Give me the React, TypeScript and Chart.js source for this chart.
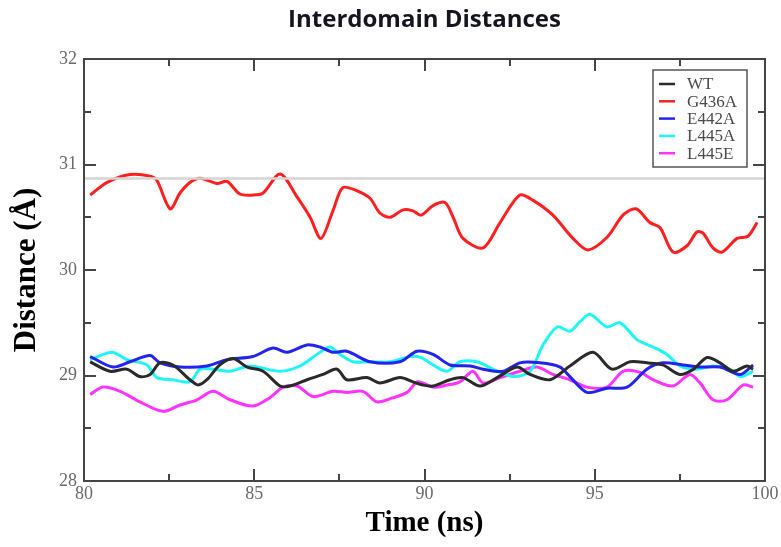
import React, { useEffect, useRef } from 'react';
import { Chart, registerables } from 'chart.js';

Chart.register(...registerables);

const W = 781;
const H = 547;

// Axis ranges and ticks
const xMin = 80;
const xMax = 100;
const xMajorStep = 5;
const xMinorStep = 2.5;
const yMin = 28;
const yMax = 32;
const yMajorStep = 1;
const yMinorStep = 0.5;

// Reference horizontal line
const refLineValue = 30.867;

// Series labels and colours
const seriesLabels = ['WT', 'G436A', 'E442A', 'L445A', 'L445E'];
const seriesColors = ['#2a2a2a', '#ff1f1f', '#2323f0', '#1ff5f5', '#ff33ff'];

// WT
const wtTime = [80.18, 80.76, 81.26, 81.64, 81.94, 82.23, 82.61, 83.11, 83.35, 83.61, 83.99, 84.38, 84.79, 85.26, 85.76, 86.05, 86.55, 87.02, 87.43, 87.72, 88.31, 88.69, 89.28, 89.66, 89.95, 90.25, 90.75, 91.13, 91.63, 92.13, 92.72, 93.1, 93.69, 94.27, 94.95, 95.5, 96.04, 96.53, 97.0, 97.5, 97.9, 98.3, 98.68, 99.06, 99.47, 99.65];
const wtDist = [29.13, 29.04, 29.06, 28.99, 29.01, 29.12, 29.10, 28.96, 28.91, 28.96, 29.10, 29.16, 29.08, 29.04, 28.90, 28.90, 28.96, 29.01, 29.06, 28.96, 28.98, 28.93, 28.98, 28.94, 28.91, 28.90, 28.96, 28.98, 28.90, 28.98, 29.08, 29.01, 28.96, 29.09, 29.22, 29.06, 29.13, 29.12, 29.10, 29.01, 29.06, 29.17, 29.12, 29.04, 29.09, 29.06];

// G436A
const g436aTime = [80.18, 80.68, 81.35, 81.94, 82.14, 82.53, 82.82, 83.11, 83.41, 83.91, 84.2, 84.58, 84.96, 85.26, 85.76, 86.26, 86.64, 86.96, 87.31, 87.6, 88.02, 88.4, 88.69, 88.99, 89.37, 89.66, 89.9, 90.25, 90.6, 90.84, 91.13, 91.72, 92.22, 92.8, 93.19, 93.77, 94.36, 94.8, 95.36, 95.83, 96.21, 96.62, 96.92, 97.3, 97.71, 98.0, 98.18, 98.47, 98.74, 99.18, 99.5, 99.77];
const g436aDist = [30.71, 30.83, 30.905, 30.89, 30.85, 30.58, 30.73, 30.83, 30.87, 30.82, 30.84, 30.72, 30.71, 30.73, 30.91, 30.69, 30.50, 30.30, 30.56, 30.78, 30.75, 30.68, 30.54, 30.50, 30.57, 30.56, 30.52, 30.61, 30.64, 30.50, 30.30, 30.21, 30.45, 30.71, 30.66, 30.52, 30.30, 30.19, 30.31, 30.52, 30.58, 30.45, 30.40, 30.17, 30.23, 30.36, 30.35, 30.21, 30.17, 30.30, 30.32, 30.45];

// E442A
const e442aTime = [80.18, 80.85, 81.35, 81.94, 82.23, 82.82, 83.61, 84.2, 84.96, 85.55, 85.96, 86.55, 86.93, 87.31, 87.72, 88.4, 89.28, 89.78, 90.25, 90.75, 91.34, 91.72, 92.31, 92.8, 93.39, 93.98, 94.27, 94.77, 95.36, 95.95, 96.53, 97.0, 97.59, 98.09, 98.68, 99.27, 99.65];
const e442aDist = [29.18, 29.08, 29.13, 29.19, 29.12, 29.08, 29.09, 29.15, 29.18, 29.26, 29.22, 29.29, 29.27, 29.22, 29.23, 29.13, 29.13, 29.23, 29.20, 29.10, 29.09, 29.06, 29.04, 29.12, 29.12, 29.08, 28.99, 28.84, 28.88, 28.89, 29.06, 29.12, 29.10, 29.08, 29.08, 29.01, 29.10];

// L445A
const l445aTime = [80.18, 80.82, 81.26, 81.85, 82.14, 82.61, 83.11, 83.41, 83.79, 84.29, 84.87, 85.76, 86.34, 86.93, 87.22, 87.52, 87.9, 88.4, 88.99, 89.57, 89.9, 90.25, 90.66, 91.04, 91.54, 92.01, 92.6, 93.1, 93.48, 93.9, 94.27, 94.57, 94.86, 95.36, 95.74, 96.24, 96.71, 97.12, 97.5, 98.0, 98.47, 98.97, 99.27, 99.65];
const l445aDist = [29.15, 29.22, 29.15, 29.10, 28.98, 28.96, 28.94, 29.06, 29.06, 29.04, 29.09, 29.04, 29.09, 29.22, 29.27, 29.20, 29.13, 29.13, 29.13, 29.18, 29.17, 29.10, 29.04, 29.13, 29.13, 29.06, 28.99, 29.04, 29.29, 29.46, 29.42, 29.51, 29.58, 29.46, 29.50, 29.34, 29.27, 29.20, 29.09, 29.06, 29.09, 29.06, 28.99, 29.04];

// L445E
const l445eTime = [80.18, 80.56, 81.06, 81.64, 82.32, 82.82, 83.32, 83.79, 84.29, 84.96, 85.46, 85.85, 86.26, 86.73, 87.31, 87.72, 88.19, 88.6, 89.08, 89.49, 89.8, 90.25, 90.66, 91.04, 91.42, 91.72, 92.22, 92.8, 93.3, 93.77, 94.27, 94.77, 95.36, 95.83, 96.33, 96.71, 97.3, 97.79, 98.09, 98.47, 98.88, 99.36, 99.65];
const l445eDist = [28.82, 28.89, 28.85, 28.75, 28.66, 28.72, 28.77, 28.85, 28.77, 28.71, 28.79, 28.89, 28.90, 28.80, 28.85, 28.84, 28.85, 28.75, 28.79, 28.84, 28.94, 28.89, 28.91, 28.94, 29.04, 28.93, 28.98, 29.04, 29.08, 29.01, 28.96, 28.89, 28.89, 29.04, 29.03, 28.96, 28.90, 29.01, 28.93, 28.77, 28.77, 28.91, 28.89];

const seriesTimes = [wtTime, g436aTime, e442aTime, l445aTime, l445eTime];
const seriesDists = [wtDist, g436aDist, e442aDist, l445aDist, l445eDist];

const toPoints = (t: number[], v: number[]) =>
  t.slice(0, Math.min(t.length, v.length)).map((x, i) => ({ x, y: v[i] }));

const frameTicks = {
  id: 'frameTicks',
  afterDatasetsDraw(chart: any) {
    const { ctx, chartArea: a, scales } = chart;
    const xs = scales.x;
    const ys = scales.y;
    ctx.save();
    ctx.strokeStyle = '#454545';
    ctx.lineWidth = 2;
    ctx.lineCap = 'butt';
    ctx.beginPath();
    for (let v = xMin; v <= xMax + 1e-9; v += xMinorStep) {
      const px = Math.round(xs.getPixelForValue(v));
      const major = Math.abs(v / xMajorStep - Math.round(v / xMajorStep)) < 1e-6;
      const len = major ? 12 : 7;
      ctx.moveTo(px, a.bottom);
      ctx.lineTo(px, a.bottom - len);
      ctx.moveTo(px, a.top);
      ctx.lineTo(px, a.top + len);
    }
    for (let v = yMin; v <= yMax + 1e-9; v += yMinorStep) {
      const py = Math.round(ys.getPixelForValue(v));
      const major = Math.abs(v / yMajorStep - Math.round(v / yMajorStep)) < 1e-6;
      const len = major ? 12 : 7;
      ctx.moveTo(a.left, py);
      ctx.lineTo(a.left + len, py);
      ctx.moveTo(a.right, py);
      ctx.lineTo(a.right - len, py);
    }
    ctx.stroke();
    ctx.strokeRect(a.left, a.top, a.right - a.left, a.bottom - a.top);
    ctx.restore();
  },
};

const boxLegend = {
  id: 'boxLegend',
  afterDraw(chart: any) {
    const { ctx, chartArea: a } = chart;
    const items = chart.data.datasets.filter((d: any) => seriesLabels.includes(d.label));
    const bw = 94;
    const bh = 97;
    const bx = a.right - 112;
    const by = a.top + 11;
    ctx.save();
    ctx.fillStyle = '#ffffff';
    ctx.fillRect(bx, by, bw, bh);
    ctx.strokeStyle = '#555555';
    ctx.lineWidth = 1.5;
    ctx.strokeRect(bx, by, bw, bh);
    ctx.font = '17px "Liberation Serif", serif';
    ctx.textBaseline = 'middle';
    ctx.textAlign = 'left';
    items.forEach((d: any, i: number) => {
      const yy = by + 14 + i * 17.3;
      ctx.strokeStyle = d.borderColor;
      ctx.lineWidth = 2.5;
      ctx.beginPath();
      ctx.moveTo(bx + 6, yy);
      ctx.lineTo(bx + 22, yy);
      ctx.stroke();
      ctx.fillStyle = '#4a4a4a';
      ctx.fillText(d.label, bx + 34, yy + 1);
    });
    ctx.restore();
  },
};

export default function App() {
  const ref = useRef<HTMLCanvasElement>(null);

  useEffect(() => {
    const canvas = ref.current;
    if (!canvas) return;
    const datasets: any[] = [
      {
        label: 'reference',
        data: [
          { x: xMin, y: refLineValue },
          { x: xMax, y: refLineValue },
        ],
        borderColor: '#d4d4d4',
        borderWidth: 2.5,
        pointRadius: 0,
        tension: 0,
      },
      ...seriesLabels.map((label, i) => ({
        label,
        data: toPoints(seriesTimes[i], seriesDists[i]),
        borderColor: seriesColors[i],
        backgroundColor: seriesColors[i],
        borderWidth: 3,
        pointRadius: 0,
        tension: 0.3,
        fill: false,
      })),
    ];

    const chart = new Chart(canvas, {
      type: 'line',
      data: { datasets },
      options: {
        responsive: false,
        animation: false,
        events: [],
        layout: { padding: { left: 0, right: 16, top: 0, bottom: 0 } },
        plugins: {
          legend: { display: false },
          tooltip: { enabled: false },
          title: {
            display: true,
            text: 'Interdomain Distances',
            fullSize: false,
            color: '#15151f',
            font: { family: '"Open Sans", sans-serif', size: 24, weight: 'bold', lineHeight: 1.2 },
            padding: { top: 6, bottom: 24.2 },
          },
        },
        scales: {
          x: {
            type: 'linear',
            min: xMin,
            max: xMax,
            ticks: {
              stepSize: xMajorStep,
              padding: 2,
              color: '#6a6a6a',
              font: { family: '"Liberation Serif", serif', size: 18 },
            },
            grid: { display: false, drawTicks: false },
            border: { display: false },
            title: {
              display: true,
              text: 'Time (ns)',
              color: '#000000',
              font: { family: '"Liberation Serif", serif', size: 29, weight: 'bold', lineHeight: 1.2 },
              padding: { top: 0, bottom: 6 },
            },
            afterFit: (s: any) => {
              s.height = 66;
            },
          },
          y: {
            type: 'linear',
            min: yMin,
            max: yMax,
            ticks: {
              stepSize: yMajorStep,
              padding: 7,
              color: '#6a6a6a',
              font: { family: '"Liberation Serif", serif', size: 18 },
            },
            grid: { display: false, drawTicks: false },
            border: { display: false },
            title: {
              display: true,
              text: 'Distance (Å)',
              color: '#000000',
              font: { family: '"Liberation Serif", serif', size: 31, weight: 'bold', lineHeight: 1.2 },
              padding: { top: 8, bottom: 0 },
            },
            afterFit: (s: any) => {
              s.width = 84;
            },
          },
        },
      } as any,
      plugins: [frameTicks, boxLegend],
    });

    return () => chart.destroy();
  }, []);

  return (
    <div style={{ position: 'absolute', left: 0, top: 0, width: W, height: H, background: '#ffffff' }}>
      <canvas ref={ref} width={W} height={H} style={{ display: 'block', width: W, height: H }} />
    </div>
  );
}
